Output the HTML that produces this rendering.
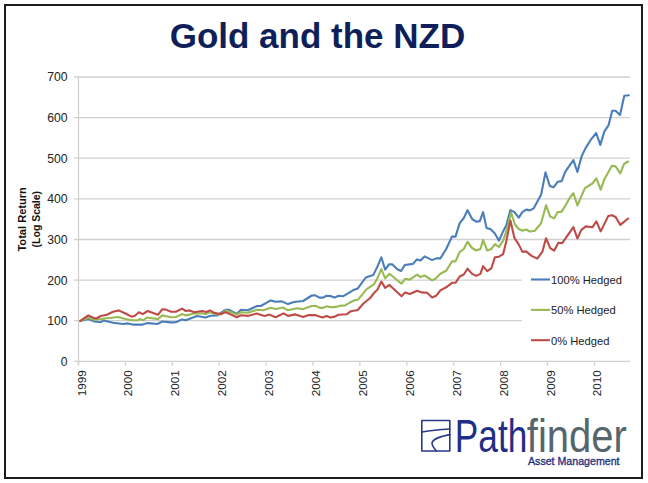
<!DOCTYPE html>
<html><head><meta charset="utf-8"><style>
html,body{margin:0;padding:0;background:#fff;}
body{width:648px;height:483px;position:relative;overflow:hidden;font-family:"Liberation Sans",sans-serif;}
#frame{position:absolute;left:4px;top:4px;width:635px;height:471px;border:2px solid #1c1c1c;}
svg{position:absolute;left:0;top:0;}
.g{stroke:#d0d0d0;stroke-width:1.3;}
.ax{font-family:"Liberation Sans",sans-serif;font-size:12.2px;fill:#222;}
.lg{font-family:"Liberation Sans",sans-serif;font-size:11.2px;fill:#222;}
.s{fill:none;stroke-width:2.1;stroke-linejoin:round;stroke-linecap:round;}
</style></head><body>
<div id="frame"></div>
<svg width="648" height="483" viewBox="0 0 648 483">
<text x="169.7" y="48.4" style="font-family:'Liberation Sans',sans-serif;font-weight:bold;font-size:35px;fill:#0f1f5a">Gold and the NZD</text>
<line x1="74" y1="361.3" x2="630" y2="361.3" class="g"/><line x1="74" y1="320.7" x2="630" y2="320.7" class="g"/><line x1="74" y1="280.1" x2="630" y2="280.1" class="g"/><line x1="74" y1="239.5" x2="630" y2="239.5" class="g"/><line x1="74" y1="198.8" x2="630" y2="198.8" class="g"/><line x1="74" y1="158.2" x2="630" y2="158.2" class="g"/><line x1="74" y1="117.6" x2="630" y2="117.6" class="g"/><line x1="74" y1="77.0" x2="630" y2="77.0" class="g"/>
<line x1="78.5" y1="77" x2="78.5" y2="365.5" class="g"/>
<line x1="78.5" y1="361" x2="78.5" y2="365.5" class="g"/><line x1="125.4" y1="361" x2="125.4" y2="365.5" class="g"/><line x1="172.3" y1="361" x2="172.3" y2="365.5" class="g"/><line x1="219.2" y1="361" x2="219.2" y2="365.5" class="g"/><line x1="266.1" y1="361" x2="266.1" y2="365.5" class="g"/><line x1="313.0" y1="361" x2="313.0" y2="365.5" class="g"/><line x1="359.9" y1="361" x2="359.9" y2="365.5" class="g"/><line x1="406.8" y1="361" x2="406.8" y2="365.5" class="g"/><line x1="453.7" y1="361" x2="453.7" y2="365.5" class="g"/><line x1="500.6" y1="361" x2="500.6" y2="365.5" class="g"/><line x1="547.5" y1="361" x2="547.5" y2="365.5" class="g"/><line x1="594.4" y1="361" x2="594.4" y2="365.5" class="g"/>
<text x="67.6" y="365.7" text-anchor="end" class="ax">0</text><text x="67.6" y="325.1" text-anchor="end" class="ax">100</text><text x="67.6" y="284.5" text-anchor="end" class="ax">200</text><text x="67.6" y="243.9" text-anchor="end" class="ax">300</text><text x="67.6" y="203.2" text-anchor="end" class="ax">400</text><text x="67.6" y="162.6" text-anchor="end" class="ax">500</text><text x="67.6" y="122.0" text-anchor="end" class="ax">600</text><text x="67.6" y="81.4" text-anchor="end" class="ax">700</text>
<text transform="translate(85.5,370.2) rotate(-90)" text-anchor="end" class="ax" style="font-size:11.7px">1999</text><text transform="translate(132.4,370.2) rotate(-90)" text-anchor="end" class="ax" style="font-size:11.7px">2000</text><text transform="translate(179.3,370.2) rotate(-90)" text-anchor="end" class="ax" style="font-size:11.7px">2001</text><text transform="translate(226.2,370.2) rotate(-90)" text-anchor="end" class="ax" style="font-size:11.7px">2002</text><text transform="translate(273.1,370.2) rotate(-90)" text-anchor="end" class="ax" style="font-size:11.7px">2003</text><text transform="translate(320.0,370.2) rotate(-90)" text-anchor="end" class="ax" style="font-size:11.7px">2004</text><text transform="translate(366.9,370.2) rotate(-90)" text-anchor="end" class="ax" style="font-size:11.7px">2005</text><text transform="translate(413.8,370.2) rotate(-90)" text-anchor="end" class="ax" style="font-size:11.7px">2006</text><text transform="translate(460.7,370.2) rotate(-90)" text-anchor="end" class="ax" style="font-size:11.7px">2007</text><text transform="translate(507.6,370.2) rotate(-90)" text-anchor="end" class="ax" style="font-size:11.7px">2008</text><text transform="translate(554.5,370.2) rotate(-90)" text-anchor="end" class="ax" style="font-size:11.7px">2009</text><text transform="translate(601.4,370.2) rotate(-90)" text-anchor="end" class="ax" style="font-size:11.7px">2010</text>
<text transform="translate(25.9,251.6) rotate(-90)" textLength="64.5" lengthAdjust="spacingAndGlyphs" style="font-family:'Liberation Sans',sans-serif;font-weight:bold;font-size:10.8px;fill:#111">Total Return</text>
<text transform="translate(39.6,247.4) rotate(-90)" textLength="56.5" lengthAdjust="spacingAndGlyphs" style="font-family:'Liberation Sans',sans-serif;font-weight:bold;font-size:10.8px;fill:#111">(Log Scale)</text>
<polyline class="s" stroke="#4a7ebb" points="80.3,320.9 88.3,319.0 94.5,321.5 100.7,322.2 103.8,320.5 113.0,322.8 122.9,324.0 127.9,323.4 132.8,324.6 142.7,324.6 147.6,323.1 157.4,324.0 162.3,321.5 171.0,322.4 175.9,322.2 182.1,319.4 185.8,320.3 196.9,316.0 205.6,317.5 210.5,315.7 217.3,315.4 225.3,309.8 228.7,309.7 236.7,314.0 241.0,309.7 247.8,310.3 257.1,306.0 260.8,306.0 270.7,300.4 275.6,301.7 281.8,301.4 288.0,304.1 294.1,302.0 303.1,301.0 311.8,295.5 314.9,295.2 319.3,297.6 323.0,297.6 326.7,295.7 330.4,296.1 334.8,297.6 338.5,295.7 342.9,296.3 349.7,292.4 353.4,290.1 357.8,288.4 365.8,277.5 373.3,275.1 377.5,266.4 381.3,257.3 385.2,269.7 389.0,264.4 392.4,264.4 397.3,269.3 401.1,271.0 404.8,265.0 413.0,263.9 416.9,259.4 420.5,260.6 424.6,256.4 432.1,260.1 436.2,258.4 440.4,258.4 446.2,249.0 452.0,236.6 455.5,236.6 459.7,223.1 463.8,218.0 467.5,210.1 472.1,219.0 476.2,221.7 479.8,221.1 483.1,212.2 486.6,227.9 490.7,229.3 494.9,233.5 499.0,240.7 503.1,231.4 506.3,225.2 510.4,210.1 514.5,212.1 518.7,217.6 522.4,212.1 526.1,209.6 529.9,210.4 533.6,208.4 541.1,194.7 545.5,172.4 549.8,186.0 553.5,187.3 557.7,181.8 561.7,181.1 565.2,171.9 570.0,164.9 573.4,160.2 577.4,172.0 581.6,156.2 585.7,147.9 591.5,138.8 596.2,133.0 600.3,144.9 604.4,131.4 608.6,125.1 612.2,110.7 615.5,110.7 620.0,115.1 624.3,95.8 628.8,95.3"/>
<polyline class="s" stroke="#98b954" points="80.3,320.9 88.3,317.8 93.3,319.7 100.7,319.0 106.9,318.2 118.0,317.0 125.4,319.0 131.6,320.3 137.7,320.3 139.6,319.0 143.3,320.3 147.0,317.5 158.0,319.1 162.3,315.4 171.0,317.2 175.9,317.0 182.1,314.1 185.8,315.4 194.4,313.5 201.9,313.3 205.6,314.1 210.5,312.3 215.4,314.1 221.6,314.1 225.9,310.4 230.0,311.7 236.7,314.6 241.0,312.2 247.8,312.8 257.1,309.7 263.3,310.3 270.7,307.8 275.6,309.0 283.0,307.5 288.0,310.3 296.6,308.2 303.1,309.1 311.8,306.0 315.5,305.8 319.9,307.9 323.0,307.9 326.7,306.3 331.0,307.3 336.0,306.9 339.8,305.8 345.3,305.4 350.3,302.3 354.7,300.2 357.8,299.8 366.5,289.3 374.1,284.2 377.5,277.9 381.3,269.2 385.2,278.3 389.5,273.8 401.5,283.7 405.1,278.8 409.7,279.6 417.2,274.6 420.5,277.1 424.6,275.5 432.1,280.4 435.4,278.8 440.4,273.8 446.2,270.7 452.0,261.4 455.5,261.4 459.7,252.1 463.8,249.0 467.5,241.8 472.1,248.0 476.2,250.5 480.4,249.0 483.1,240.1 487.2,250.5 491.3,249.0 494.9,244.2 499.0,246.9 503.1,240.7 506.3,231.4 511.0,212.4 515.0,224.5 518.7,229.0 522.4,230.7 526.1,229.5 529.9,231.5 534.8,230.7 541.1,223.3 546.0,205.2 550.2,216.6 554.2,218.3 557.7,212.1 561.7,211.6 565.9,204.7 570.0,197.5 573.4,193.2 577.4,205.5 584.9,188.2 592.3,183.5 596.4,178.3 600.7,189.7 604.5,178.9 611.9,165.8 615.6,166.4 620.3,173.3 624.0,164.0 628.1,161.5"/>
<polyline class="s" stroke="#be4b48" points="80.3,320.9 88.3,315.4 93.3,317.8 96.4,318.5 100.7,316.0 106.9,314.8 113.0,311.7 118.6,310.4 125.4,313.5 131.6,316.6 134.6,316.0 139.0,312.3 142.7,314.1 147.6,311.0 158.0,314.8 162.3,309.2 166.0,309.6 171.0,311.7 175.9,311.7 182.1,308.6 185.8,311.0 189.5,310.4 194.4,312.3 201.9,311.0 206.2,312.0 209.9,310.4 214.2,312.9 220.4,314.1 225.3,312.3 230.0,314.1 236.7,317.3 241.0,315.2 247.8,315.9 256.5,313.6 264.5,315.9 269.4,314.6 275.6,317.3 283.6,313.4 288.0,315.9 295.4,314.4 303.1,317.0 308.7,315.1 314.9,315.1 322.4,317.5 326.7,316.0 330.4,317.5 334.8,316.6 338.5,314.7 346.6,314.3 350.9,311.2 357.8,310.0 363.4,303.5 370.2,298.0 374.5,292.4 377.5,289.5 381.3,281.6 385.2,287.9 389.5,284.9 401.5,296.2 405.1,292.4 409.7,294.0 417.2,290.7 421.3,292.4 427.1,292.8 432.1,297.5 436.2,295.7 440.4,290.4 446.2,287.3 452.0,282.8 455.5,282.8 459.7,276.5 463.8,274.5 467.5,268.7 472.1,273.9 476.2,275.9 480.4,273.9 483.1,266.2 487.2,271.2 491.3,268.3 494.9,257.3 499.0,256.7 503.1,254.2 506.3,241.3 510.4,220.6 514.5,238.2 518.7,244.4 522.4,251.9 526.1,251.4 531.1,255.6 537.3,258.6 542.3,251.9 546.0,238.2 550.2,248.1 554.2,250.6 558.4,242.7 562.2,243.2 573.4,227.2 577.4,238.5 581.2,230.1 585.8,226.4 592.3,227.3 596.4,221.3 600.7,231.4 608.2,216.1 611.9,215.2 615.6,217.0 620.3,224.9 628.1,218.5"/>
<rect x="522" y="262" width="110" height="90" fill="#fff"/>
<line x1="531" y1="279.5" x2="550" y2="279.5" stroke="#4a7ebb" stroke-width="2.1"/>
<line x1="531" y1="309.9" x2="550" y2="309.9" stroke="#98b954" stroke-width="2.1"/>
<line x1="531" y1="340.2" x2="550" y2="340.2" stroke="#be4b48" stroke-width="2.1"/>
<text x="551" y="283.9" class="lg">100% Hedged</text>
<text x="551" y="314.3" class="lg">50% Hedged</text>
<text x="551" y="344.6" class="lg">0% Hedged</text>
<g fill="none" stroke="#2b3888" stroke-width="1.6" stroke-linecap="round" stroke-linejoin="round">
<rect x="421.8" y="420.5" width="28" height="30.5"/>
<path d="M422 432 C430 430.5, 440 429.5, 449.8 429"/>
<path d="M449.8 434.6 C442 436, 435 438, 432.5 441.5 C430.5 444.5, 434 448, 436.2 451"/>
</g>
<text x="454.8" y="452" textLength="72.5" lengthAdjust="spacingAndGlyphs" style="font-family:'Liberation Sans',sans-serif;font-size:46px;fill:#1f2f85">Path</text>
<text x="526.8" y="452" textLength="100" lengthAdjust="spacingAndGlyphs" style="font-family:'Liberation Sans',sans-serif;font-size:46px;fill:#56666d">finder</text>
<text x="528" y="465.3" textLength="91.5" lengthAdjust="spacingAndGlyphs" style="font-family:'Liberation Sans',sans-serif;font-size:10.8px;fill:#28347f;stroke:#28347f;stroke-width:0.35">Asset Management</text>
</svg>
</body></html>
